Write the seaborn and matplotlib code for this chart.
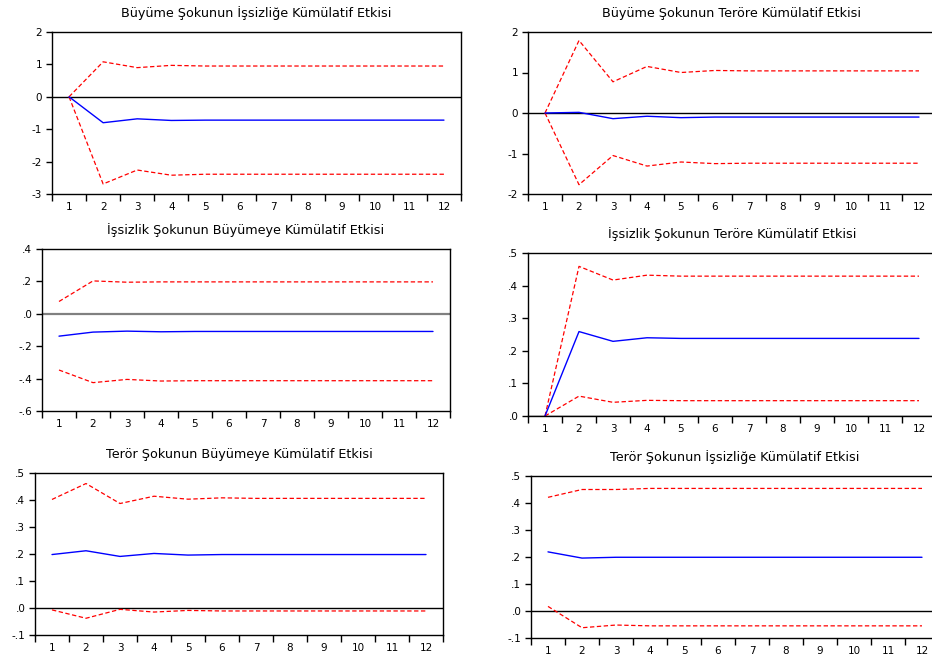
import matplotlib.pyplot as plt
import matplotlib.ticker as mticker
import pandas as pd
import seaborn as sns

sns.set_theme(style='white')
plt.rcParams['font.family'] = ['DejaVu Sans']

periods = list(range(1, 13))

titles = [
    'Büyüme Şokunun İşsizliğe Kümülatif Etkisi',
    'Büyüme Şokunun Teröre Kümülatif Etkisi',
    'İşsizlik Şokunun Büyümeye Kümülatif Etkisi',
    'İşsizlik Şokunun Teröre Kümülatif Etkisi',
    'Terör Şokunun Büyümeye Kümülatif Etkisi',
    'Terör Şokunun İşsizliğe Kümülatif Etkisi',
]

# cumulative responses (blue) and +/- 2 s.e. bands (red)
resp1 = [0, -0.80, -0.68, -0.73, -0.72, -0.72, -0.72, -0.72, -0.72, -0.72, -0.72, -0.72]
upper1 = [0, 1.08, 0.90, 0.97, 0.95, 0.95, 0.95, 0.95, 0.95, 0.95, 0.95, 0.95]
lower1 = [0, -2.69, -2.26, -2.42, -2.39, -2.39, -2.39, -2.39, -2.39, -2.39, -2.39, -2.39]

resp2 = [0, 0.016, -0.14, -0.08, -0.115, -0.10, -0.10, -0.10, -0.10, -0.10, -0.10, -0.10]
upper2 = [0, 1.79, 0.77, 1.15, 1.00, 1.05, 1.04, 1.04, 1.04, 1.04, 1.04, 1.04]
lower2 = [0, -1.77, -1.05, -1.31, -1.21, -1.25, -1.24, -1.24, -1.24, -1.24, -1.24, -1.24]

resp3 = [-0.138, -0.113, -0.107, -0.111, -0.109, -0.109, -0.109, -0.109, -0.109, -0.109, -0.109, -0.109]
upper3 = [0.076, 0.203, 0.195, 0.197, 0.197, 0.197, 0.197, 0.197, 0.197, 0.197, 0.197, 0.197]
lower3 = [-0.347, -0.425, -0.405, -0.415, -0.413, -0.413, -0.413, -0.413, -0.413, -0.413, -0.413, -0.413]

resp4 = [0, 0.259, 0.229, 0.240, 0.238, 0.238, 0.238, 0.238, 0.238, 0.238, 0.238, 0.238]
upper4 = [0, 0.459, 0.417, 0.432, 0.429, 0.429, 0.429, 0.429, 0.429, 0.429, 0.429, 0.429]
lower4 = [0, 0.061, 0.042, 0.048, 0.047, 0.047, 0.047, 0.047, 0.047, 0.047, 0.047, 0.047]

resp5 = [0.198, 0.212, 0.191, 0.202, 0.196, 0.198, 0.198, 0.198, 0.198, 0.198, 0.198, 0.198]
upper5 = [0.402, 0.461, 0.387, 0.414, 0.403, 0.408, 0.406, 0.406, 0.406, 0.406, 0.406, 0.406]
lower5 = [-0.007, -0.038, -0.005, -0.015, -0.009, -0.011, -0.011, -0.011, -0.011, -0.011, -0.011, -0.011]

resp6 = [0.219, 0.196, 0.199, 0.199, 0.199, 0.199, 0.199, 0.199, 0.199, 0.199, 0.199, 0.199]
upper6 = [0.421, 0.450, 0.450, 0.454, 0.454, 0.454, 0.454, 0.454, 0.454, 0.454, 0.454, 0.454]
lower6 = [0.017, -0.062, -0.052, -0.055, -0.055, -0.055, -0.055, -0.055, -0.055, -0.055, -0.055, -0.055]

yticks = [
    [-3, -2, -1, 0, 1, 2],
    [-2, -1, 0, 1, 2],
    [-0.6, -0.4, -0.2, 0.0, 0.2, 0.4],
    [0.0, 0.1, 0.2, 0.3, 0.4, 0.5],
    [-0.1, 0.0, 0.1, 0.2, 0.3, 0.4, 0.5],
    [-0.1, 0.0, 0.1, 0.2, 0.3, 0.4, 0.5],
]
ylabels = [
    ['-3', '-2', '-1', '0', '1', '2'],
    ['-2', '-1', '0', '1', '2'],
    ['-.6', '-.4', '-.2', '.0', '.2', '.4'],
    ['.0', '.1', '.2', '.3', '.4', '.5'],
    ['-.1', '.0', '.1', '.2', '.3', '.4', '.5'],
    ['-.1', '.0', '.1', '.2', '.3', '.4', '.5'],
]

responses = [resp1, resp2, resp3, resp4, resp5, resp6]
uppers = [upper1, upper2, upper3, upper4, upper5, upper6]
lowers = [lower1, lower2, lower3, lower4, lower5, lower6]

# axes boxes in pixels: left, right, top, bottom
W, H = 932, 657
boxes = [
    (52, 461, 32, 194),
    (528, 936, 32, 194),
    (42, 450, 249, 411),
    (528, 936, 253, 416),
    (35, 443, 473, 635),
    (531, 939, 476, 638),
]

fig = plt.figure(figsize=(W / 100, H / 100), dpi=100)

for i in range(6):
    l, r, t, b = boxes[i]
    ax = fig.add_axes([l / W, (H - b) / H, (r - l) / W, (b - t) / H])
    df = pd.DataFrame({'period': periods, 'resp': responses[i],
                       'upper': uppers[i], 'lower': lowers[i]})

    zero_color = '#808080' if i == 2 else 'black'
    zero_lw = 1.6 if i == 2 else 1.0
    ax.axhline(0, color=zero_color, lw=zero_lw, zorder=1)

    sns.lineplot(data=df, x='period', y='upper', ax=ax, color='#ff0000', lw=0.9)
    sns.lineplot(data=df, x='period', y='lower', ax=ax, color='#ff0000', lw=0.9)
    sns.lineplot(data=df, x='period', y='resp', ax=ax, color='#0000ff', lw=1.0)
    for ln in ax.lines[1:3]:
        ln.set_dashes([3.5, 2])

    ax.set_xlim(0.5, 12.5)
    ax.set_ylim(yticks[i][0], yticks[i][-1])
    ax.set_xticks(periods)
    ax.set_xticklabels([str(p) for p in periods])
    ax.xaxis.set_minor_locator(mticker.FixedLocator([p + 0.5 for p in range(0, 13)]))
    ax.tick_params(axis='x', which='major', length=0, pad=6, labelsize=7.5, colors='black')
    ax.tick_params(axis='x', which='minor', bottom=True, length=5, width=1, direction='out', color='black')
    ax.set_yticks(yticks[i])
    ax.set_yticklabels(ylabels[i])
    ax.tick_params(axis='y', left=True, length=4, width=1, direction='out', pad=3,
                   labelsize=7.5, colors='black')
    ax.set_xlabel('')
    ax.set_ylabel('')
    for s in ax.spines.values():
        s.set_color('black')
        s.set_linewidth(1.0)
    ax.set_title(titles[i], fontsize=9.2, pad=11, color='black')

fig.savefig('out.png', dpi=100)
